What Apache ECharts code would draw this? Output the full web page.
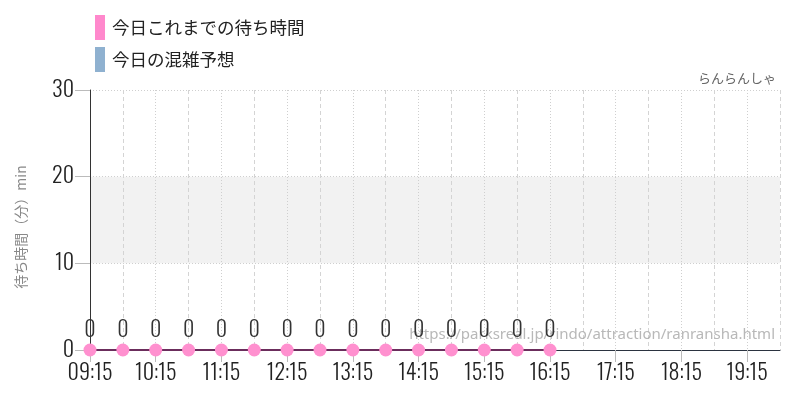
<!DOCTYPE html>
<html><head><meta charset="utf-8">
<script src="https://cdn.jsdelivr.net/npm/echarts@6/dist/echarts.min.js"></script>
<style>html,body{margin:0;padding:0;background:#fff}#c{width:800px;height:400px}</style>
</head><body><div id="c"></div>
<script>
const categories = ['09:15','09:45','10:15','10:45','11:15','11:45','12:15','12:45','13:15','13:45','14:15','14:45','15:15','15:45','16:15','16:45','17:15','17:45','18:15','18:45','19:15','19:45'];
const waitSoFar = [0,0,0,0,0,0,0,0,0,0,0,0,0,0,0];
const forecast = [];
const seriesNames = ['今日これまでの待ち時間','今日の混雑予想'];
const yTicks = {min:0, max:30, interval:10};
const titleText = 'らんらんしゃ';
const yName = '待ち時間（分）min';
const sourceUrl = 'https://parksreal.jp/rindo/attraction/ranransha.html';

const numFont = '"Oswald", "Roboto Condensed", sans-serif';
const jpFont = '"Noto Sans CJK JP", sans-serif';
const isHour = i => i % 2 === 0;
const isHalf = i => i % 2 === 1;

const chart = echarts.init(document.getElementById('c'));
chart.setOption({
  animation: false,
  title: {text: titleText, right: 19, top: 67, textStyle:{fontFamily: jpFont, fontSize: 13, fontWeight: 'normal', color: '#666'}},
  legend: {orient:'vertical', left: 90, top: 10, itemGap: 7, itemWidth: 10, itemHeight: 25, icon: 'rect',
    data: [{name: seriesNames[0], itemStyle:{color:'#ff88cc'}}, {name: seriesNames[1], itemStyle:{color:'#8fb1d0'}}],
    textStyle:{fontFamily: jpFont, fontSize: 17.5, color:'#222', padding:[0,0,0,2]}},
  grid: {left: 90, right: 20, top: 90, bottom: 50},
  graphic: [{type:'text', right: 25, top: 327, z: 1, style:{text: sourceUrl, font: '15px "Noto Sans", sans-serif', fill: 'rgba(160,160,160,0.75)'}}],
  xAxis: [{
    type:'category', data: categories, boundaryGap:false,
    axisLine:{lineStyle:{color:'#2b3340', width:1}},
    axisTick:{show:true, interval: isHour, length: 12, lineStyle:{color:'#bbb'}},
    axisLabel:{interval: isHour, margin: 12, fontFamily: numFont, fontWeight: 300, fontSize: 22, color:'#222'},
    splitLine:{show:true, interval: isHalf, lineStyle:{color:'#d4d4d4', type:[4,3]}}
  },{
    type:'category', data: categories, boundaryGap:false, position:'bottom',
    axisLine:{show:false}, axisTick:{show:false}, axisLabel:{show:false},
    splitLine:{show:true, interval: isHour, lineStyle:{color:'#cfcfcf', type:[1,2]}}
  }],
  yAxis: {
    type:'value', min: yTicks.min, max: yTicks.max, interval: yTicks.interval,
    name: yName, nameLocation:'middle', nameGap: 62, nameRotate: 90,
    nameTextStyle:{fontFamily: jpFont, fontSize: 14, color:'#888', padding:[0,14,0,0]},
    axisLine:{show:true, lineStyle:{color:'#333'}},
    axisTick:{show:true, length: 15, lineStyle:{color:'#bbb'}},
    axisLabel:{margin: 16, fontFamily: numFont, fontWeight: 300, fontSize: 22, color:'#222'},
    splitLine:{show:true, lineStyle:{color:'#cfcfcf', type:[1,2]}},
    splitArea:{show:true, areaStyle:{color:['rgba(0,0,0,0)','#f2f2f2']}}
  },
  series: [{
    name: seriesNames[0], type:'line', data: waitSoFar, xAxisIndex: 0, z: 5,
    symbol:'circle', symbolSize: 13, itemStyle:{color:'#ff90cf'},
    lineStyle:{color:'#6b2d5c', width: 2},
    label:{show:true, position:'top', distance: 2, fontFamily: numFont, fontWeight: 300, fontSize: 22, color:'#333'}
  },{
    name: seriesNames[1], type:'bar', data: forecast, xAxisIndex: 0, itemStyle:{color:'#8fb1d0'}
  }]
});
</script></body></html>
